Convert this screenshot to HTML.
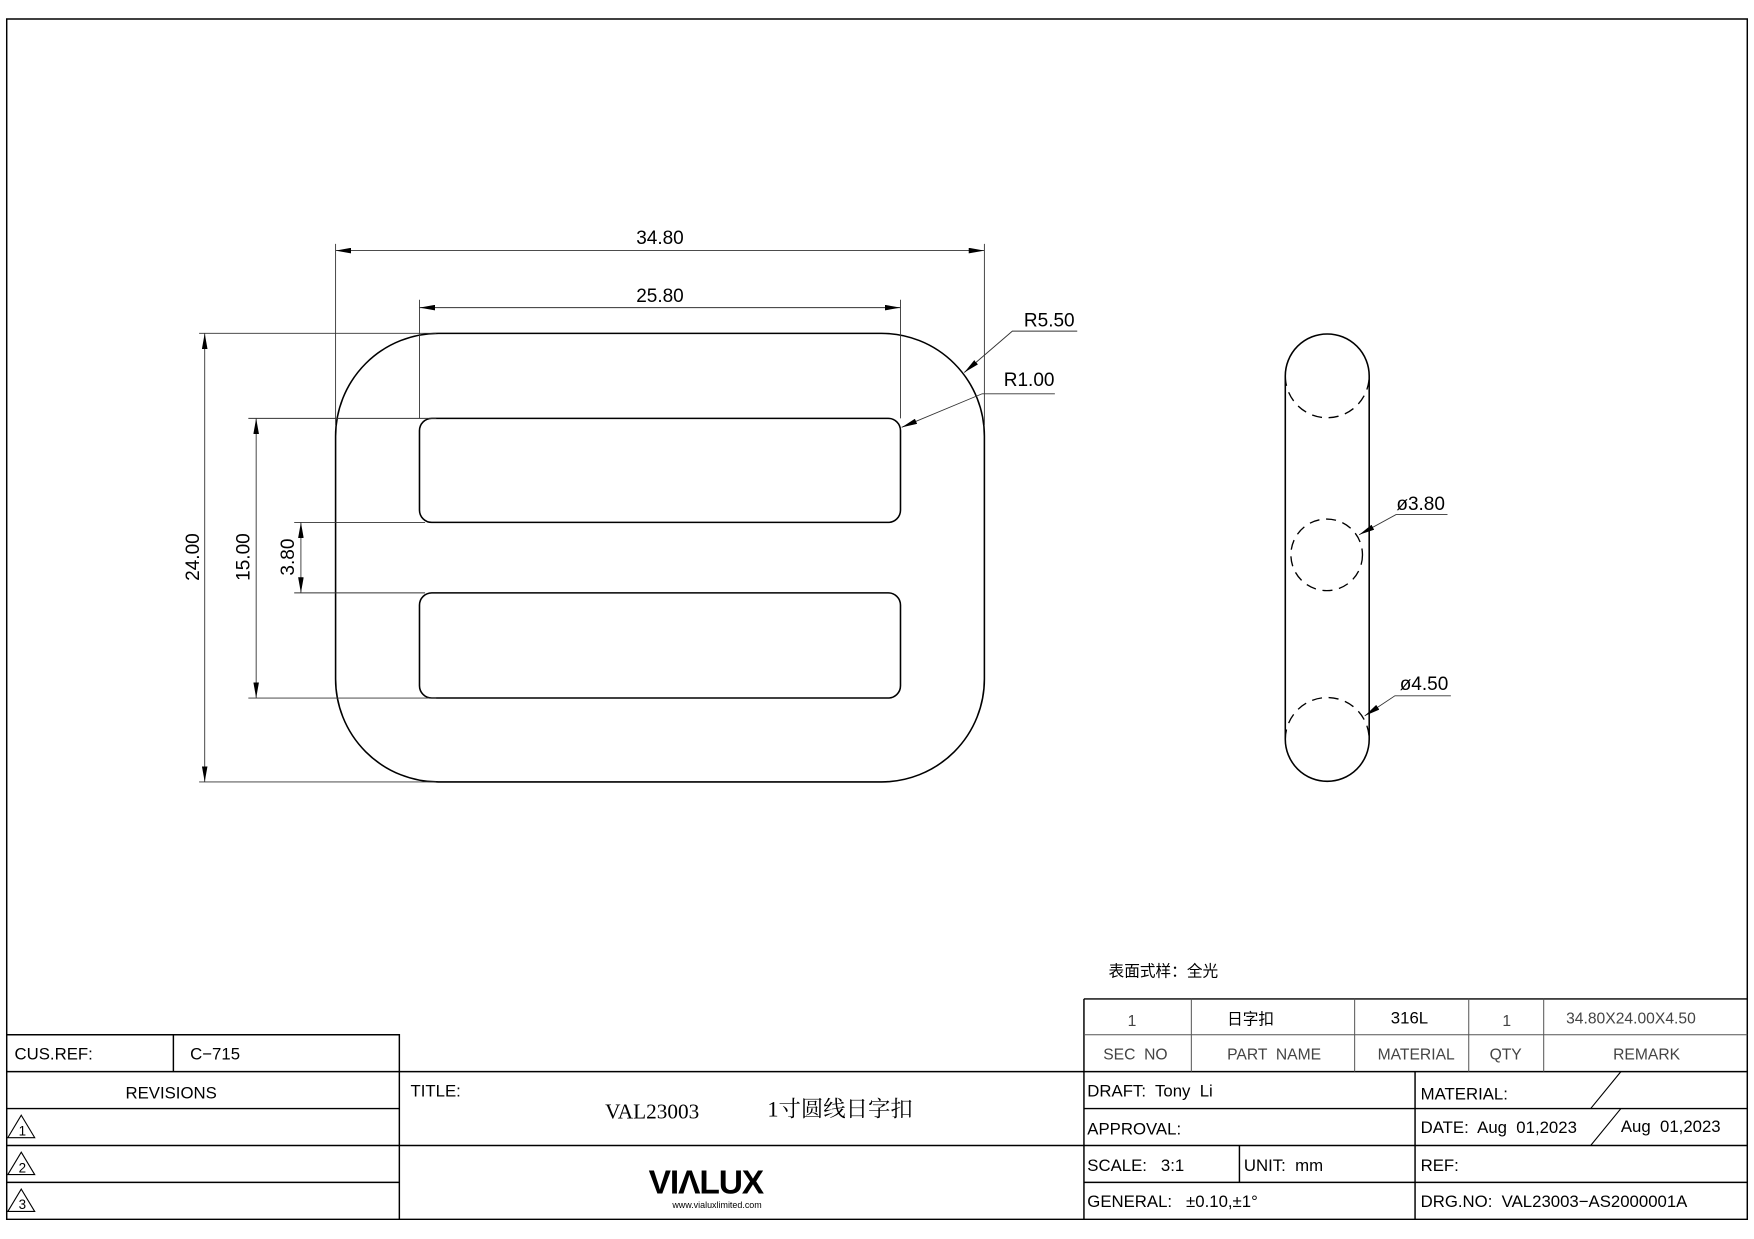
<!DOCTYPE html>
<html><head><meta charset="utf-8"><style>
html,body{margin:0;padding:0;background:#fff}
svg{display:block}
text{font-family:"Liberation Sans","Noto Sans CJK SC",sans-serif;fill:#000;white-space:pre}
</style></head><body>
<svg width="1754" height="1239" viewBox="0 0 1568 1107.6" xmlns="http://www.w3.org/2000/svg" xml:space="preserve">
<defs>
<marker id="a" viewBox="0 0 14 5" refX="14" refY="2.5" markerWidth="14" markerHeight="5" orient="auto-start-reverse" markerUnits="userSpaceOnUse"><path d="M0,0L14,2.5L0,5z" fill="#000"/></marker>
</defs>
<g fill="none" stroke="#000" stroke-width="1.3">
<path d="M6,17H1562V1090H6Z"/>
<path d="M6,925H357V1090M155,925V958M6,958H1562M6,991H357M6,1024H1562M6,1057H357M357,958V1024"/>
<path d="M969,893H1562M969,893V1090M969,991H1562M969,1057H1562M1265,958V1090M1108,1024V1057"/>
<path d="M1422,991L1449,958M1422,1024L1449,991" stroke-width="1"/>
</g>
<g fill="none" stroke="#555" stroke-width="0.9">
<path d="M969,925H1562M1065,893V958M1211,893V958M1313,893V958M1380,893V958"/>
</g>
<g fill="none" stroke="#000" stroke-width="1.4">
<rect x="300" y="298" width="580" height="401" rx="92" ry="92"/>
<rect x="375" y="374" width="430" height="93" rx="11"/>
<rect x="375" y="530" width="430" height="94" rx="11"/>
<path d="M1149,336A37.5,37.5 0 0 1 1224,336M1149,661A37.5,37.5 0 0 0 1224,661M1149,336V661M1224,336V661"/>
</g>
<g fill="none" stroke="#000" stroke-width="1.2" stroke-dasharray="9,6">
<path d="M1149,336A37.5,37.5 0 0 0 1224,336M1149,661A37.5,37.5 0 0 1 1224,661"/>
<circle cx="1186" cy="496" r="32"/>
</g>
<g fill="none" stroke="#333" stroke-width="0.8">
<path d="M300,218V380M880,218V380M375,268V374M805,268V374M178,298H390M178,699H390M222,374H390M222,624H390M263,467H380M263,530H380"/>
</g>
<g fill="none" stroke="#333" stroke-width="0.8" marker-start="url(#a)" marker-end="url(#a)">
<path d="M300,224H880"/>
<path d="M375,275H805"/>
<path d="M183,298V699"/>
<path d="M229,374V624"/>
<path d="M269,467V530"/>
</g>
<g fill="none" stroke="#333" stroke-width="0.8" marker-end="url(#a)">
<path d="M963,296H905L862,333"/>
<path d="M943,352H878L806,382"/>
<path d="M1294,460H1248L1215,478"/>
<path d="M1297,622H1247L1220,640"/>
</g>
<g font-size="17">
<text x="590" y="218" text-anchor="middle">34.80</text>
<text x="590" y="270" text-anchor="middle">25.80</text>
<text x="938" y="292" text-anchor="middle">R5.50</text>
<text x="920" y="345" text-anchor="middle">R1.00</text>
<text x="1270" y="456" text-anchor="middle">ø3.80</text>
<text x="1273" y="617" text-anchor="middle">ø4.50</text>
<text transform="translate(178,498) rotate(-90)" text-anchor="middle">24.00</text>
<text transform="translate(223,498) rotate(-90)" text-anchor="middle">15.00</text>
<text transform="translate(263,498) rotate(-90)" text-anchor="middle">3.80</text>
</g>
<text x="991" y="873" font-size="14">表面式样：全光</text>
<g font-size="14" text-anchor="middle">
<text x="1012" y="917" style="fill:#444">1</text>
<text x="1118" y="916">日字扣</text>
<text x="1260" y="915" font-size="15">316L</text>
<text x="1347" y="917" style="fill:#444">1</text>
<text x="1458" y="915" style="fill:#444">34.80X24.00X4.50</text>
<text x="1015" y="947" style="fill:#444">SEC  NO</text>
<text x="1139" y="947" style="fill:#444">PART  NAME</text>
<text x="1266" y="947" style="fill:#444">MATERIAL</text>
<text x="1346" y="947" style="fill:#444">QTY</text>
<text x="1472" y="947" style="fill:#444">REMARK</text>
</g>
<g font-size="15">
<text x="13" y="947">CUS.REF:</text>
<text x="170" y="947">C−715</text>
<text x="153" y="982" text-anchor="middle">REVISIONS</text>
<text x="367" y="980">TITLE:</text>
<text x="972" y="980">DRAFT:  Tony  Li</text>
<text x="1270" y="983">MATERIAL:</text>
<text x="972" y="1014">APPROVAL:</text>
<text x="1270" y="1013">DATE:  Aug  01,2023</text>
<text x="1449" y="1012">Aug  01,2023</text>
<text x="972" y="1047">SCALE:   3:1</text>
<text x="1112" y="1047">UNIT:  mm</text>
<text x="1270" y="1047">REF:</text>
<text x="972" y="1079">GENERAL:   ±0.10,±1°</text>
<text x="1270" y="1079">DRG.NO:  VAL23003−AS2000001A</text>
</g>
<text x="541" y="1000" font-size="19" style="font-family:'Liberation Serif','Noto Serif CJK SC',serif">VAL23003</text>
<text x="686" y="998" font-size="20" style="font-family:'Liberation Serif','Noto Serif CJK SC',serif">1寸圆线日字扣</text>
<g fill="none" stroke="#000" stroke-width="1">
<path d="M19,997L31,1017H7Z M19,1030L31,1050H7Z M19,1063L31,1083H7Z"/>
</g>
<g font-size="12" text-anchor="middle">
<text x="20" y="1015">1</text><text x="20" y="1048">2</text><text x="20" y="1081">3</text>
</g>
<text x="631" y="1067" font-size="30" font-weight="bold" text-anchor="middle" letter-spacing="-1">VIΛLUX</text>
<text x="641" y="1080" font-size="8" text-anchor="middle">www.vialuxlimited.com</text>
</svg>
</body></html>
